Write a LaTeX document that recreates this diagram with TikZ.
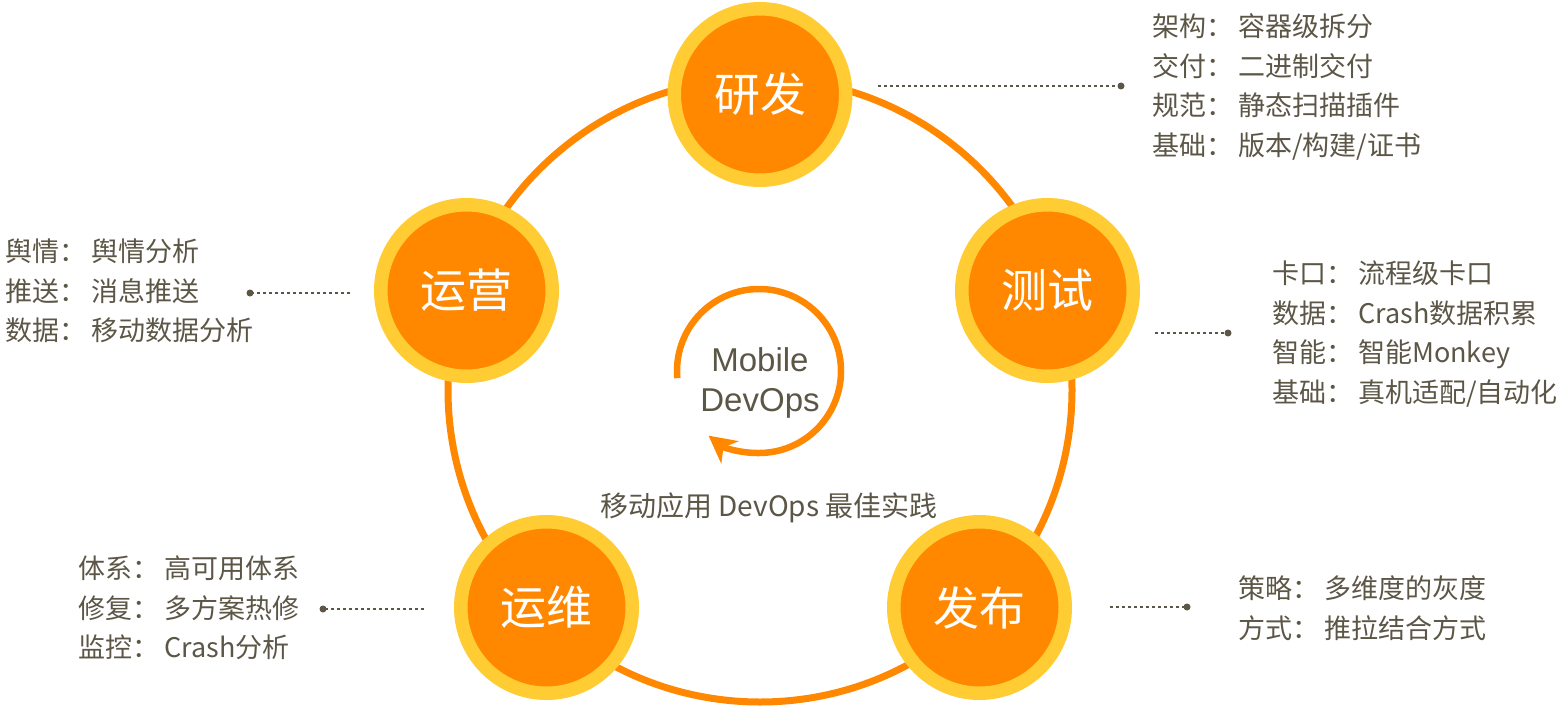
\documentclass[tikz,border=0pt]{standalone}
\usepackage{fontspec}
\setmainfont{Noto Sans CJK SC}
\newfontfamily\latfont{Liberation Sans}
\usetikzlibrary{arrows.meta}
\definecolor{ringc}{HTML}{FF8800}
\definecolor{haloc}{HTML}{FFCC33}
\definecolor{txtc}{HTML}{5C5647}
\newcommand\mysep{：\hspace{5pt}}
\begin{document}
\begin{tikzpicture}[x=1pt,y=-1pt,
  stage/.style={circle, fill=ringc, draw=haloc, line width=13.5pt, minimum size=171.5pt,
    inner sep=0pt, text=white, font=\fontsize{46}{50}\selectfont},
  info/.style={anchor=west, align=left, text=txtc, font=\fontsize{27}{39.5}\selectfont, inner sep=0pt},
  lead/.style={draw=txtc, line width=1.3pt, dash pattern=on 3pt off 3pt},
  dotm/.style={circle, fill=txtc, inner sep=0pt, minimum size=7pt}]
\useasboundingbox (0,0) rectangle (1566,706);
% main ring
\draw[ringc, line width=7pt] (760,390) circle[radius=312];
% stages
\node[stage] (yf) at (760,94.5) {研发};
\node[stage] (cs) at (1047.5,290.5) {测试};
\node[stage] (fb) at (979.5,607.5) {发布};
\node[stage] (yw) at (546.5,607.5) {运维};
\node[stage] (yy) at (466.5,290.5) {运营};
% inner cycle arrow
\draw[ringc, line width=6.5pt, -{Stealth[length=27pt, width=28pt, inset=8pt]}]
  (759,371) ++(175:82) arc[start angle=175, end angle=488, radius=82];
\node[text=txtc, font=\latfont\fontsize{33}{40}\selectfont, align=center, inner sep=0pt] (md) at (760,383) {Mobile\\DevOps};
\node[text=txtc, font=\fontsize{28}{30}\selectfont, inner sep=0pt] (best) at (769,508) {移动应用 DevOps 最佳实践};
% info blocks
\node[info] (t1) at (1152,87) {架构\mysep 容器级拆分\\交付\mysep 二进制交付\\规范\mysep 静态扫描插件\\基础\mysep 版本/构建/证书};
\node[info] (t2) at (1272,334) {卡口\mysep 流程级卡口\\数据\mysep Crash数据积累\\智能\mysep 智能Monkey\\基础\mysep 真机适配/自动化};
\node[info] (t3) at (1238,608) {策略\mysep 多维度的灰度\\方式\mysep 推拉结合方式};
\node[info] (t4) at (78,608) {体系\mysep 高可用体系\\修复\mysep 多方案热修\\监控\mysep Crash分析};
\node[info] (t5) at (5,291) {舆情\mysep 舆情分析\\推送\mysep 消息推送\\数据\mysep 移动数据分析};
% leaders
\coordinate (s1) at (878,86);   \coordinate (d1) at (1121,86);
\coordinate (s2) at (1155,333); \coordinate (d2) at (1228,333);
\coordinate (s3) at (1110,607); \coordinate (d3) at (1187,607);
\coordinate (s4) at (424,609);  \coordinate (d4) at (323,609);
\coordinate (s5) at (350,293);  \coordinate (d5) at (250,293);
\foreach \i in {1,...,5}{
  \draw[lead] (s\i) -- (d\i);
  \node[dotm] (m\i) at (d\i) {};
}
\end{tikzpicture}
\end{document}
